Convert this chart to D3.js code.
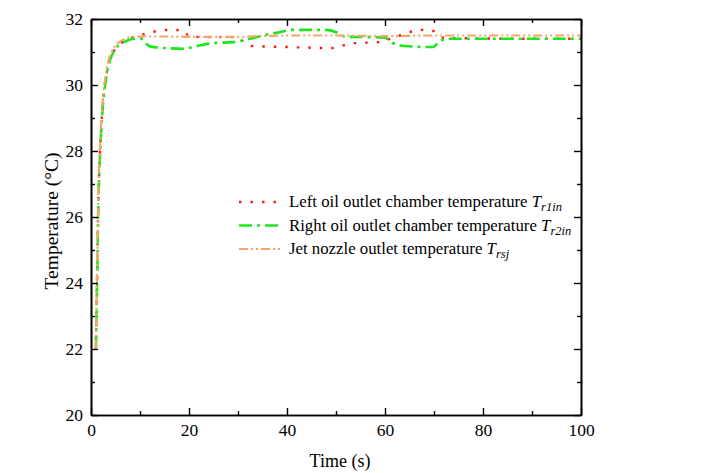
<!DOCTYPE html>
<html>
<head>
<meta charset="utf-8">
<script src="https://cdn.jsdelivr.net/npm/d3@7"></script>
<style>
  body { margin: 0; background: #fff; }
  svg text, svg tspan { font-family: "Liberation Serif", "Times New Roman", serif; fill: #000; }
</style>
</head>
<body>
<svg id="chart" width="717" height="473"></svg>
<script>
// data
const timeLeft = [1, 1.2, 1.5, 1.85, 2.2, 2.5, 3, 3.5, 4, 5, 6, 7, 8, 10, 11, 13, 16, 19, 20, 25, 30, 31.5, 33, 40, 49, 51.5, 54, 59, 61, 63, 65.5, 68, 70, 71, 72, 80, 90, 100];
const tempLeft = [22, 23.8, 26.5, 28, 29, 29.6, 30.2, 30.6, 30.85, 31.1, 31.25, 31.35, 31.42, 31.5, 31.55, 31.62, 31.67, 31.65, 31.47, 31.45, 31.45, 31.25, 31.18, 31.15, 31.12, 31.2, 31.27, 31.3, 31.4, 31.5, 31.62, 31.67, 31.63, 31.5, 31.43, 31.41, 31.4, 31.4];

const timeRight = [1, 1.2, 1.5, 1.85, 2.2, 2.5, 3, 3.5, 4, 5, 6, 7, 8, 10, 11, 12, 15, 19, 21, 25, 29, 32.5, 34.5, 38.5, 41, 48, 50, 52, 57, 60, 61.5, 64, 69.8, 71.2, 73, 80, 100];
const tempRight = [22, 23.6, 26.3, 27.9, 28.9, 29.5, 30.1, 30.55, 30.8, 31.1, 31.25, 31.32, 31.38, 31.42, 31.3, 31.17, 31.12, 31.1, 31.16, 31.27, 31.3, 31.4, 31.48, 31.6, 31.67, 31.67, 31.6, 31.46, 31.45, 31.43, 31.28, 31.18, 31.15, 31.33, 31.4, 31.4, 31.4];

const timeJet = [1, 1.2, 1.5, 1.85, 2.2, 2.5, 3, 3.5, 4, 5, 6, 7, 8, 10, 15, 20, 30, 40, 50, 60, 70, 80, 90, 100];
const tempJet = [22, 24, 26.7, 28.2, 29.1, 29.7, 30.3, 30.7, 30.95, 31.2, 31.32, 31.4, 31.45, 31.47, 31.47, 31.46, 31.46, 31.5, 31.5, 31.48, 31.5, 31.5, 31.5, 31.5];

const seriesNames = ['Left oil outlet chamber temperature ', 'Right oil outlet chamber temperature ', 'Jet nozzle outlet temperature '];
const seriesSubs = ['r1in', 'r2in', 'rsj'];

const xMajor = [0, 20, 40, 60, 80, 100];
const xMinor = [10, 30, 50, 70, 90];
const yMajor = [20, 22, 24, 26, 28, 30, 32];
const yMinor = [21, 23, 25, 27, 29, 31];

const svg = d3.select('#chart');
const margin = { top: 19, left: 91 };
const w = 490, h = 396;

const x = d3.scaleLinear().domain([0, 100]).range([0, w]);
const y = d3.scaleLinear().domain([20, 32]).range([h, 0]);

const g = svg.append('g').attr('transform', `translate(${margin.left},${margin.top})`);

// clip so nothing leaks out of the frame
svg.append('defs').append('clipPath').attr('id', 'clip')
    .append('rect').attr('width', w).attr('height', h);

const plot = g.append('g').attr('clip-path', 'url(#clip)');

const styles = [
    { color: '#ff1a1a', width: 2.4, dash: '2.5,9' },
    { color: '#1ee61e', width: 2.6, dash: '13,5,3,5' },
    { color: '#f5a56a', width: 2.2, dash: '9,3,2,3,2,3' }
];

const series = [
    { t: timeLeft, v: tempLeft },
    { t: timeRight, v: tempRight },
    { t: timeJet, v: tempJet }
];

const line = d3.line()
    .x(d => x(d[0]))
    .y(d => y(d[1]))
    .curve(d3.curveMonotoneX);

series.forEach((s, i) => {
    const pts = s.t.map((t, k) => [t, s.v[k]]);
    plot.append('path')
        .datum(pts)
        .attr('fill', 'none')
        .attr('stroke', styles[i].color)
        .attr('stroke-width', styles[i].width)
        .attr('stroke-dasharray', styles[i].dash)
        .attr('d', line);
});

// axes (ticks inside)
function styleAxis(sel) {
    sel.selectAll('path.domain').attr('stroke', '#000').attr('stroke-width', 1.6);
    sel.selectAll('.tick line').attr('stroke', '#000').attr('stroke-width', 1.4);
    sel.selectAll('.tick text').style('font-size', '17.5px').attr('fill', '#000');
}

g.append('g').attr('transform', `translate(0,${h})`)
    .call(d3.axisBottom(x).tickValues(xMajor).tickSize(-7).tickSizeOuter(0).tickPadding(9))
    .call(styleAxis);
g.append('g').attr('transform', `translate(0,${h})`)
    .call(d3.axisBottom(x).tickValues(xMinor).tickSize(-4).tickSizeOuter(0).tickFormat(''))
    .call(styleAxis);
g.append('g')
    .call(d3.axisTop(x).tickValues(xMajor).tickSize(-7).tickSizeOuter(0).tickFormat(''))
    .call(styleAxis);
g.append('g')
    .call(d3.axisTop(x).tickValues(xMinor).tickSize(-4).tickSizeOuter(0).tickFormat(''))
    .call(styleAxis);

g.append('g')
    .call(d3.axisLeft(y).tickValues(yMajor).tickSize(-7).tickSizeOuter(0).tickPadding(8))
    .call(styleAxis);
g.append('g')
    .call(d3.axisLeft(y).tickValues(yMinor).tickSize(-4).tickSizeOuter(0).tickFormat(''))
    .call(styleAxis);
g.append('g').attr('transform', `translate(${w},0)`)
    .call(d3.axisRight(y).tickValues(yMajor).tickSize(-7).tickSizeOuter(0).tickFormat(''))
    .call(styleAxis);
g.append('g').attr('transform', `translate(${w},0)`)
    .call(d3.axisRight(y).tickValues(yMinor).tickSize(-4).tickSizeOuter(0).tickFormat(''))
    .call(styleAxis);

// axis titles
svg.append('text')
    .attr('x', margin.left + w / 2 + 4)
    .attr('y', 467)
    .attr('text-anchor', 'middle')
    .style('font-size', '18px')
    .text('Time (s)');

svg.append('text')
    .attr('transform', 'translate(58,221) rotate(-90)')
    .attr('text-anchor', 'middle')
    .style('font-size', '19.5px')
    .text('Temperature (°C)');

// legend
const legend = svg.append('g').attr('transform', 'translate(239,207)');
seriesNames.forEach((name, i) => {
    const row = legend.append('g').attr('transform', `translate(0,${i * 23.5})`);
    row.append('line')
        .attr('x1', 0).attr('x2', 42)
        .attr('y1', -5).attr('y2', -5)
        .attr('stroke', styles[i].color)
        .attr('stroke-width', styles[i].width)
        .attr('stroke-dasharray', styles[i].dash);
    const txt = row.append('text').attr('x', 50).attr('y', 0).style('font-size', '16.8px');
    txt.append('tspan').text(name);
    txt.append('tspan').style('font-style', 'italic').text('T');
    txt.append('tspan').style('font-style', 'italic').style('font-size', '12.5px')
        .attr('dy', 4).text(seriesSubs[i]);
});
</script>
</body>
</html>
